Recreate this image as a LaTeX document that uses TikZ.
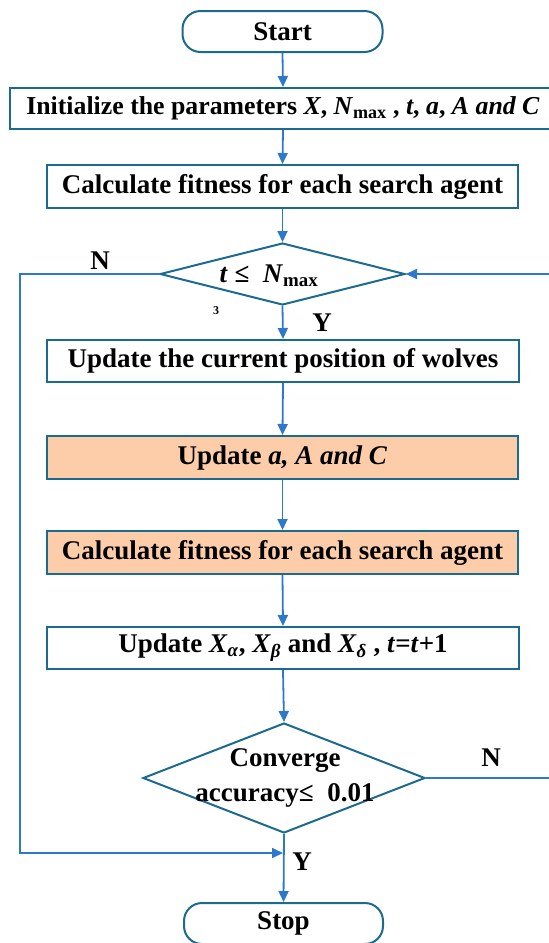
\documentclass[tikz,border=0pt]{standalone}
\usepackage{fontspec}
\setmainfont{Liberation Serif}
\usetikzlibrary{shapes.geometric,arrows.meta}
\definecolor{boxline}{HTML}{1A6B8F}
\definecolor{arrowline}{HTML}{2E78CC}
\definecolor{peach}{HTML}{FDCDAA}
\begin{document}
\begin{tikzpicture}[x=1pt,y=-1pt,
  every node/.style={font=\fontsize{27}{31}\selectfont\bfseries},
  procbox/.style={draw=boxline,line width=2pt,rectangle,inner sep=0pt,minimum height=42pt},
  termbox/.style={draw=boxline,line width=2pt,rectangle,rounded corners=18pt,inner sep=0pt,minimum width=200pt,minimum height=41pt},
  decision/.style={draw=boxline,line width=2pt,diamond,inner sep=0pt},
  flow/.style={draw=arrowline,line width=1.8pt,-{Triangle[length=11pt,width=10pt]}},
  lbl/.style={inner sep=0pt}]
\useasboundingbox (0,0) rectangle (549,943);

\node[termbox] (start) at (282.5,31.5) {Start};
\node[procbox,minimum width=546pt,minimum height=41pt,font=\fontsize{25.8}{30}\selectfont\bfseries] (init) at (283,108.5)
  {Initialize the parameters \textit{X}, \textit{N}\textsubscript{max} , \textit{t}, \textit{a}, \textit{A and C}};
\node[procbox,minimum width=471pt,minimum height=43pt] (calc1) at (282.5,186.5) {Calculate fitness for each search agent};
\node[decision,minimum width=245pt,minimum height=62pt] (d1) at (282.5,274) {};
\node[lbl] (d1t) at (269,276) {\textit{t} ≤\enspace \textit{N}\textsubscript{max}};
\node[procbox,minimum width=472pt] (upd) at (283,361) {Update the current position of wolves};
\node[procbox,fill=peach,minimum width=471pt,minimum height=43pt] (upa) at (282.5,457.5) {Update \textit{a, A and C}};
\node[procbox,fill=peach,minimum width=471pt,minimum height=43pt] (calc2) at (282.5,552.5) {Calculate fitness for each search agent};
\node[procbox,minimum width=472pt] (updx) at (283,648) {Update \textit{X}\textsubscript{\textit{α}}, \textit{X}\textsubscript{\textit{β}} and \textit{X}\textsubscript{\textit{δ}} , \textit{t}=\textit{t}+1};
\node[decision,minimum width=282pt,minimum height=110pt] (d2) at (284,778) {};
\node[lbl,align=center,font=\fontsize{27}{35}\selectfont\bfseries] (d2t) at (285,778) {Converge\\accuracy≤\enspace 0.01};
\node[termbox,minimum width=199pt] (stop) at (283.5,923.5) {Stop};

% labels
\node[lbl] (n1) at (100,261) {N};
\node[lbl] (y1) at (322,323) {Y};
\node[lbl] (n2) at (491,758) {N};
\node[lbl] (y2) at (302,862) {Y};
\node[lbl,font=\fontsize{12}{12}\selectfont\bfseries] (mark) at (216,311) {3};

% main flow
\draw[flow] (start.south) -- (init.north);
\draw[flow] (init.south) -- (calc1.north);
\draw[flow] (calc1.south) -- (d1.north);
\draw[flow] (d1.south) -- (upd.north);
\draw[flow] (upd.south) -- (upa.north);
\draw[flow] (upa.south) -- (calc2.north);
\draw[flow] (calc2.south) -- (updx.north);
\draw[flow] (updx.south) -- (d2.north);
\draw[flow] (d2.south) -- (stop.north);

% loops
\coordinate (lt) at (20,274);
\coordinate (lb) at (20,853);
\coordinate (jn) at (283,853);
\draw[flow] (d1.west) -- (lt) -- (lb) -- (jn);
\coordinate (rb) at (562,778);
\coordinate (rt) at (562,274);
\draw[flow] (d2.east) -- (rb) -- (rt) -- (d1.east);
\end{tikzpicture}
\end{document}
